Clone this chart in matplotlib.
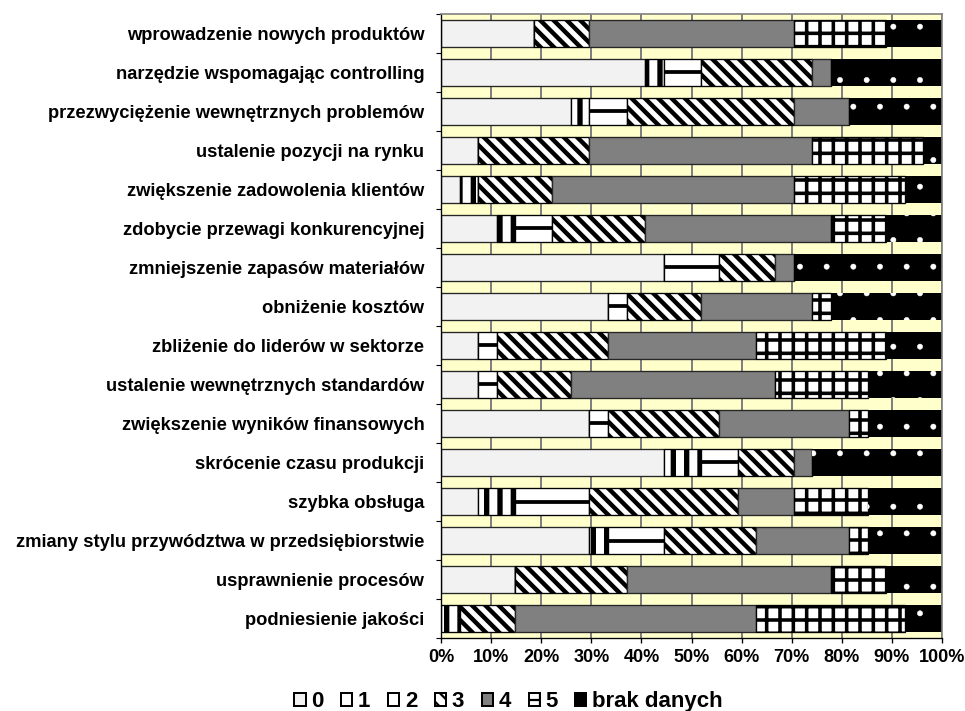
import numpy as np
import matplotlib
matplotlib.use('Agg')
import matplotlib.pyplot as plt
from matplotlib.patches import Patch

plt.rcParams['font.family'] = ['Liberation Sans', 'DejaVu Sans']
plt.rcParams['font.weight'] = 'bold'

# DATA (number of answers per rating, 27 firms)
categories = ['wprowadzenie nowych produktów',
              'narzędzie wspomagając controlling',
              'przezwyciężenie wewnętrznych problemów',
              'ustalenie pozycji na rynku',
              'zwiększenie zadowolenia klientów',
              'zdobycie przewagi konkurencyjnej',
              'zmniejszenie zapasów materiałów',
              'obniżenie kosztów',
              'zbliżenie do liderów w sektorze',
              'ustalenie wewnętrznych standardów',
              'zwiększenie wyników finansowych',
              'skrócenie czasu produkcji',
              'szybka obsługa',
              'zmiany stylu przywództwa w przedsiębiorstwie',
              'usprawnienie procesów',
              'podniesienie jakości']
series_names = ['0', '1', '2', '3', '4', '5', 'brak danych']
r0 = [5, 11, 7, 2, 1, 3, 12, 9, 2, 2, 8, 12, 2, 8, 4, 0]
r1 = [0, 1, 1, 0, 1, 1, 0, 0, 0, 0, 0, 2, 2, 1, 0, 1]
r2 = [0, 2, 2, 0, 0, 2, 3, 1, 1, 1, 1, 2, 4, 3, 0, 0]
r3 = [3, 6, 9, 6, 4, 5, 3, 4, 6, 4, 6, 3, 8, 5, 6, 3]
r4 = [11, 1, 3, 12, 13, 10, 1, 6, 8, 11, 7, 1, 3, 5, 11, 13]
r5 = [5, 0, 0, 6, 6, 3, 0, 1, 7, 5, 1, 0, 4, 1, 3, 8]
brak = [3, 6, 5, 1, 2, 3, 8, 6, 3, 4, 4, 7, 4, 4, 3, 2]
xticks = [0, 10, 20, 30, 40, 50, 60, 70, 80, 90, 100]

# fill / hatch for each rating (hatch spacing depends on dpi)
STYLES = [
    dict(face='#F2F2F2', edge='#262626', hatch=None, lw=0.6, hlw=0.5),
    dict(face='white', edge='black', hatch='||', lw=0.6, hlw=2.4),
    dict(face='white', edge='black', hatch=None, lw=0.6, hlw=0.5),
    dict(face='white', edge='black', hatch='\\\\\\\\', lw=0.6, hlw=2.0),
    dict(face='#808080', edge='#262626', hatch=None, lw=0.6, hlw=0.5),
    dict(face='white', edge='black', hatch='++', lw=0.6, hlw=1.6),
    dict(face='black', edge='white', hatch='.', lw=0, hlw=0.2),
]

counts = np.array([r0, r1, r2, r3, r4, r5, brak], dtype=float)
pct = 100 * counts / counts.sum(axis=0)

dpi = 160
fig = plt.figure(figsize=(965/dpi, 711/dpi), dpi=dpi)
ax = fig.add_axes([441/965, 1 - 638/711, 501/965, 624/711])
ax.set_facecolor('#FFFFCC')

y = np.arange(len(categories))
height = 0.68
left = np.zeros(len(categories))
for k, st in enumerate(STYLES):
    bars = ax.barh(y, pct[k], left=left, height=height, color=st['face'],
                   edgecolor=st['edge'], linewidth=st['lw'], hatch=st['hatch'],
                   zorder=2)
    for p in bars:
        if hasattr(p, 'set_hatch_linewidth'):
            p.set_hatch_linewidth(st['hlw'])
    if k == 2:
        # single black line through the middle of rating "2"
        m = pct[k] > 0
        ax.hlines(y[m], left[m], (left + pct[k])[m], color='black',
                  linewidth=1.7, zorder=3)
    left += pct[k]

ax.set_xlim(0, 100)
ax.set_ylim(len(categories) - 0.5, -0.5)

ax.set_xticks(xticks)
ax.set_xticklabels([f'{v}%' for v in xticks], fontsize=8.1, fontweight='bold')
ax.tick_params(axis='x', direction='out', length=2.3, width=0.6, pad=2.5)

ax.set_yticks(y)
ax.set_yticklabels(categories, fontsize=8.25, fontweight='bold')
ax.tick_params(axis='y', which='major', length=0, pad=7.5)
ax.set_yticks(np.arange(-0.5, len(categories), 1), minor=True)
ax.tick_params(axis='y', which='minor', length=2.3, width=0.5, color='black')

ax.set_axisbelow(True)
ax.grid(axis='x', color='#808080', linewidth=0.9)
ax.grid(axis='y', visible=False)
for s in ['top', 'right']:
    ax.spines[s].set_color('#808080')
    ax.spines[s].set_linewidth(0.75)
for s in ['left', 'bottom']:
    ax.spines[s].set_color('black')
    ax.spines[s].set_linewidth(0.6)

handles = []
for k, st in enumerate(STYLES):
    h = Patch(facecolor=st['face'], edgecolor='black', linewidth=0.9,
              hatch='-' if k == 2 else (None if k == 6 else st['hatch']))
    handles.append(h)
fig.legend(handles, series_names, loc='center', bbox_to_anchor=(0.527, 0.013),
           ncol=7, frameon=False, fontsize=10, handlelength=0.5,
           handleheight=0.5, handletextpad=0.25, columnspacing=0.8,
           borderpad=0, borderaxespad=0)

fig.savefig('out.png', dpi=dpi)
